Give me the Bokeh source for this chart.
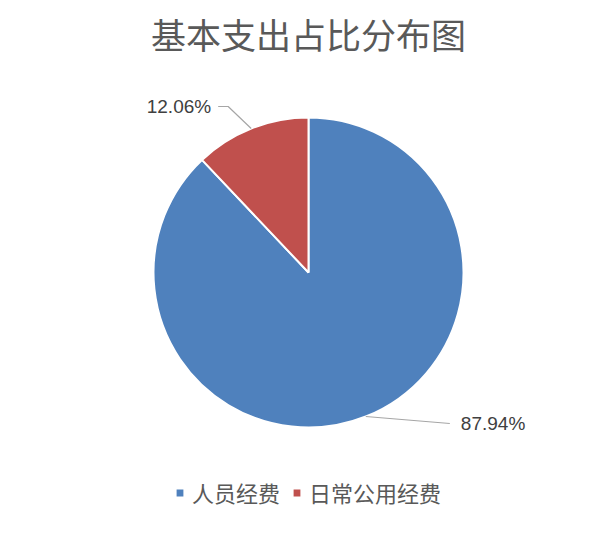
import math
from bokeh.plotting import figure
from bokeh.models import Range1d, Label, Legend, LegendItem, ColumnDataSource
from bokeh.embed import file_html
from bokeh.resources import INLINE

# ---- data ----
title_text = "基本支出占比分布图"
categories = ["人员经费", "日常公用经费"]
shares = [87.94, 12.06]
colors = ["#4f81bd", "#c0504d"]

# ---- layout ----
W, H = 584, 519
CX, CY, R = 308, 247, 155
FONT = "Noto Sans CJK SC"
TXT = "#595959"

p = figure(width=W, height=H, output_backend="svg", toolbar_location=None,
           x_range=Range1d(0, W), y_range=Range1d(0, H),
           min_border=0, outline_line_color=None)
p.axis.visible = False
p.grid.visible = False
p.background_fill_color = "white"

total = sum(shares)
starts, ends, mids = [], [], []
cum = 0.0
for v in shares:
    a0 = math.pi / 2 - cum / total * 2 * math.pi
    cum += v
    a1 = math.pi / 2 - cum / total * 2 * math.pi
    starts.append(a0)
    ends.append(a1)
    mids.append((a0 + a1) / 2)

src = ColumnDataSource(dict(start=starts, end=ends, color=colors, cat=categories))
wr = p.wedge(x=CX, y=CY, radius=R, start_angle="start", end_angle="end",
             direction="clock", fill_color="color", line_color="white",
             line_width=2, source=src)

# leader lines + labels (offsets are layout)
label_layout = [
    dict(elbow=(84, -7), tail=(0, 0), tx=11, align="left"),
    dict(elbow=(-23, 22), tail=(-10, 0), tx=-7, align="right"),
]
for v, m, lay in zip(shares, mids, label_layout):
    ex = CX + R * math.cos(m)
    ey = CY + R * math.sin(m)
    bx, by = ex + lay["elbow"][0], ey + lay["elbow"][1]
    tx_, ty_ = bx + lay["tail"][0], by + lay["tail"][1]
    p.line([ex, bx, tx_], [ey, by, ty_], line_color="#a6a6a6", line_width=1.2)
    p.add_layout(Label(x=tx_ + lay["tx"], y=ty_, text=f"{v:.2f}%",
                       text_align=lay["align"], text_baseline="middle",
                       text_font="Liberation Sans", text_font_size="19px",
                       text_color="#404040"))

p.add_layout(Label(x=CX, y=486, text=title_text, text_align="center",
                   text_baseline="middle", text_font=FONT,
                   text_font_size="35px", text_color=TXT))

items = [LegendItem(label=c, renderers=[wr], index=i) for i, c in enumerate(categories)]
legend = Legend(items=items, orientation="horizontal", location=(174, 11),
                glyph_width=11, glyph_height=11, label_standoff=7, spacing=11,
                padding=0, margin=0, border_line_color=None,
                background_fill_alpha=0, label_text_font=FONT,
                label_text_font_size="22px", label_text_color=TXT)
p.add_layout(legend, "center")

open("out.html", "w").write(file_html(p, INLINE))
